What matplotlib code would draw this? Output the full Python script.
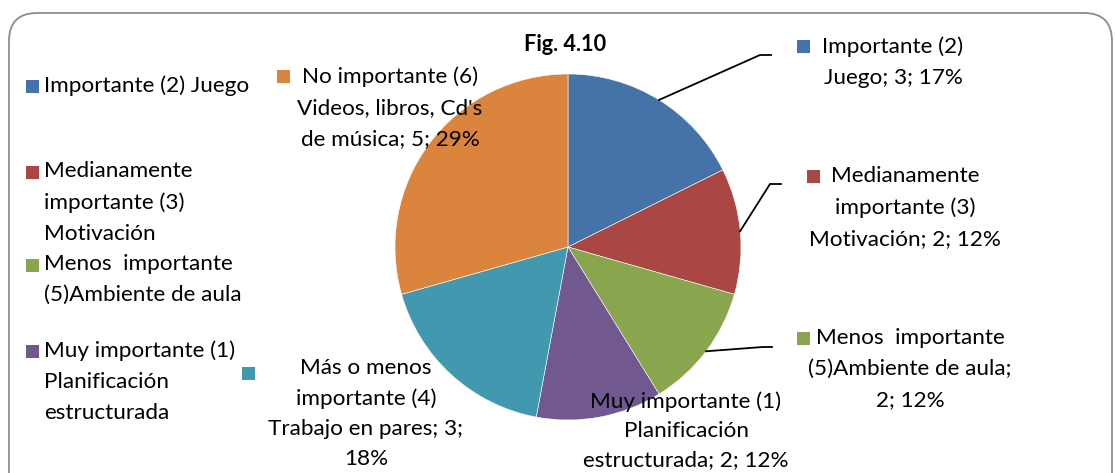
import numpy as np
import matplotlib
matplotlib.use("Agg")
import matplotlib.pyplot as plt
from matplotlib.patches import FancyBboxPatch, Rectangle

# data (clockwise from 12 o'clock)
categories = ["Importante (2) Juego",
              "Medianamente importante (3) Motivación",
              "Menos  importante (5)Ambiente de aula",
              "Muy importante (1) Planificación estructurada",
              "Más o menos importante (4) Trabajo en pares",
              "No importante (6) Videos, libros, Cd's de música"]
values = [3, 2, 2, 2, 3, 5]
percents = ["17%", "12%", "12%", "12%", "18%", "29%"]
colors = ["#4572A7", "#AA4643", "#89A54E", "#71588F", "#4198AF", "#DB843D"]

# wrapped data labels as they appear in the picture
label_text = ["Importante (2)\nJuego; 3; 17%",
              "Medianamente\nimportante (3)\nMotivación; 2; 12%",
              "Menos  importante\n(5)Ambiente de aula;\n2; 12%",
              "Muy importante (1)\nPlanificación\nestructurada; 2; 12%",
              "Más o menos\nimportante (4)\nTrabajo en pares; 3;\n18%",
              "No importante (6)\nVideos, libros, Cd's\nde música; 5; 29%"]
legend_text = ["Importante (2) Juego",
               "Medianamente\nimportante (3)\nMotivación",
               "Menos  importante\n(5)Ambiente de aula",
               "Muy importante (1)\nPlanificación\nestructurada"]

W, H = 1115, 473
plt.rcParams['font.family'] = ['Lato', 'DejaVu Sans']
fs = 16.2
lsp = 1.70
top_off = 12  # distance from first-line centre to text top

fig = plt.figure(figsize=(W / 100, H / 100), dpi=100)
ax = fig.add_axes([0, 0, 1, 1])

# chart border
ax.add_patch(FancyBboxPatch((9, -40), W - 12, H - 13 + 40,
                            boxstyle="round,pad=0,rounding_size=28",
                            fc="white", ec="#8c8c8c", lw=1.3, zorder=0))

cx, cy, r = 568, H - 247, 173
wedges, _ = ax.pie(values, colors=colors, startangle=90, counterclock=False,
                   center=(cx, cy), radius=r, frame=True,
                   wedgeprops=dict(edgecolor="white", linewidth=0.4))
ax.set_xlim(0, W)
ax.set_ylim(0, H)
ax.set_aspect('equal')
ax.axis('off')

ax.text(565, H - 45, "Fig. 4.10", ha="center", va="center",
        fontsize=fs - 0.5, fontweight="bold")

# data labels: (text centre x, first line y, marker x, marker y, line spacing)
lab_pos = [(893, 48, 803, 47, lsp),
           (905, 178, 813, 177, lsp),
           (910, 340, 803, 339, lsp),
           (686, 403, None, None, 1.58),
           (366, 370, 248, 374, 1.63),
           (390, 78, 283, 77, lsp)]
for i, (tx, ty, mx, my, ls) in enumerate(lab_pos):
    ax.text(tx, H - ty + top_off, label_text[i], ha="center", va="top",
            fontsize=fs, linespacing=ls, zorder=5)
    if mx is not None:
        ax.add_patch(Rectangle((mx - 6.5, H - my - 6.5), 13, 13,
                               fc=colors[i], ec="none", zorder=5))

# leader lines for the three labels on the right
elbows = {0: (760, 55, 771), 1: (770, 184, 781), 2: (763, 347, 772)}
for i, (ex, ey, hx) in elbows.items():
    w = wedges[i]
    mid = np.deg2rad((w.theta1 + w.theta2) / 2)
    sx, sy = cx + r * np.cos(mid), cy + r * np.sin(mid)
    ax.plot([sx, ex, hx], [sy, H - ey, H - ey], color="black", lw=1.3,
            zorder=4, solid_joinstyle="miter")

# legend on the left
leg_y = [87, 173, 266, 352]
for i, t in enumerate(legend_text):
    ax.add_patch(Rectangle((26, H - leg_y[i] - 6.5), 13, 13,
                           fc=colors[i], ec="none"))
    ax.text(44, H - leg_y[i] + top_off, t, ha="left", va="top", fontsize=fs,
            linespacing=lsp)

fig.savefig("out.png", dpi=100)
